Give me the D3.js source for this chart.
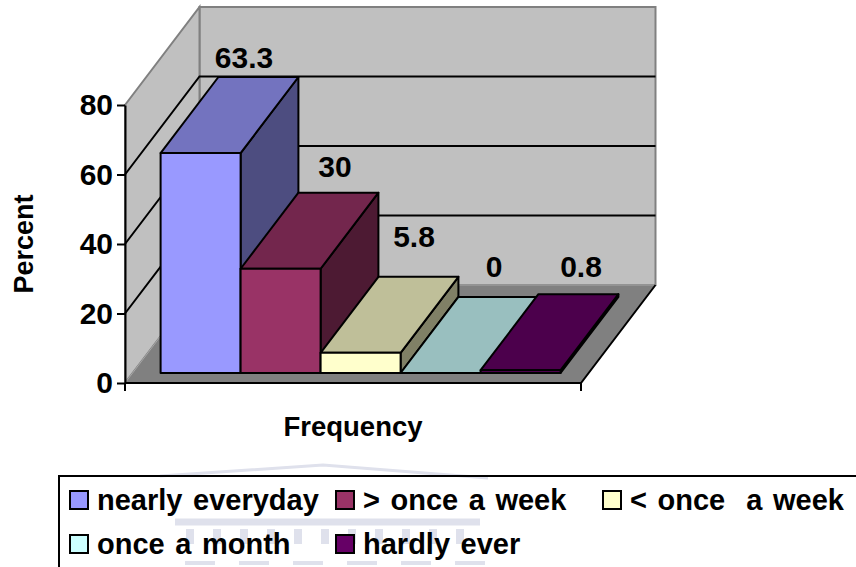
<!DOCTYPE html>
<html>
<head>
<meta charset="utf-8">
<script src="https://cdn.jsdelivr.net/npm/d3@7"></script>
<style>
    html, body { margin: 0; padding: 0; background: #fff; overflow: hidden; }
    text { font-family: "Liberation Sans", Arial, sans-serif; font-weight: bold; fill: #000; }
</style>
</head>
<body>
<div id="plot"></div>
<script>
// values
const categories = ["nearly everyday", "> once a week", "< once  a week", "once a month", "hardly ever"];
const values = [63.3, 30, 5.8, 0, 0.8];
const valueLabels = ["63.3", "30", "5.8", "0", "0.8"];
const yTicks = [0, 20, 40, 60, 80];
const frontColors = ["#9999FF", "#993366", "#FFFFCC", "#CCFFFF", "#660066"];
const topColors = ["#7373BF", "#73264D", "#BFBF99", "#99BFBF", "#4C004C"];
const sideColors = ["#4D4D80", "#4D1A33", "#808066", "#668080", "#330033"];

const width = 856, height = 567;

const svg = d3.select("#plot")
    .append("svg")
    .attr("width", width)
    .attr("height", height)
    .style("display", "block");

// Front plane scales
const x = d3.scaleBand().domain(categories).range([125, 581]).paddingInner(0).paddingOuter(0.35);
const y = d3.scaleLinear().domain([0, 80]).range([383, 105]);

// Depth goes from 0 (front of the floor) to 1 (back wall)
const project = (px, v, z) => [px + z * 74.5, y(v) - z * 98];
const polygon = pts => "M" + pts.map(p => p.join(",")).join("L") + "Z";

const x0 = 125, x1 = 581;

// Back wall
svg.append("path")
    .attr("d", polygon([project(x0, 0, 1), project(x0, 80, 1), project(x1, 80, 1), project(x1, 0, 1)]))
    .attr("fill", "#C0C0C0").attr("stroke", "#808080").attr("stroke-width", 2);

// Side wall
svg.append("path")
    .attr("d", polygon([project(x0, 0, 0), project(x0, 80, 0), project(x0, 80, 1), project(x0, 0, 1)]))
    .attr("fill", "#C0C0C0").attr("stroke", "#808080").attr("stroke-width", 2);

// Floor
svg.append("path")
    .attr("d", polygon([project(x0, 0, 0), project(x0, 0, 1), project(x1, 0, 1), project(x1, 0, 0)]))
    .attr("fill", "#808080").attr("stroke", "#A6A6A6").attr("stroke-width", 1);

// Gridlines on the walls
yTicks.filter(d => d > 0 && d < 80).forEach(d => {
    svg.append("path")
        .attr("d", d3.line()([project(x0, d, 0), project(x0, d, 1), project(x1, d, 1)]))
        .attr("fill", "none").attr("stroke", "#000").attr("stroke-width", 2);
});

// Bars, each with a front, top and side face
const zFront = 0.102, zBack = 0.878;
categories.forEach((c, i) => {
    const a = x(c), b = a + x.bandwidth(), v = values[i];
    const g = svg.append("g")
        .attr("stroke", "#000").attr("stroke-width", 2).attr("stroke-linejoin", "round");
    g.append("path").attr("fill", sideColors[i])
        .attr("d", polygon([project(b, 0, zFront), project(b, v, zFront), project(b, v, zBack), project(b, 0, zBack)]));
    g.append("path").attr("fill", topColors[i])
        .attr("d", polygon([project(a, v, zFront), project(a, v, zBack), project(b, v, zBack), project(b, v, zFront)]));
    g.append("path").attr("fill", frontColors[i])
        .attr("d", polygon([project(a, 0, zFront), project(a, v, zFront), project(b, v, zFront), project(b, 0, zFront)]));
});

// Floor edge and axes
svg.append("path")
    .attr("d", d3.line()([project(x1, 0, 1), project(x1, 0, 0), project(x0, 0, 0)]))
    .attr("fill", "none").attr("stroke", "#000").attr("stroke-width", 2);

svg.append("g")
    .attr("transform", `translate(${x0},0)`)
    .call(d3.axisLeft(y).tickValues(yTicks).tickSize(8).tickSizeOuter(0).tickPadding(4))
    .call(g => g.selectAll("path,line").attr("stroke", "#000").attr("stroke-width", 2))
    .call(g => g.selectAll("text").style("font-size", "30px").attr("font-family", null));

[x0, x1].forEach(px => {
    svg.append("line")
        .attr("x1", px).attr("x2", px).attr("y1", y(0)).attr("y2", y(0) + 8)
        .attr("stroke", "#000").attr("stroke-width", 2);
});

// Value labels
const labelX = [244, 335, 414, 494, 581];
const labelY = [68, 177, 247, 277, 277];
valueLabels.forEach((t, i) => {
    svg.append("text")
        .attr("x", labelX[i]).attr("y", labelY[i])
        .attr("text-anchor", "middle")
        .style("font-size", "30px")
        .text(t);
});

// Axis titles
svg.append("text")
    .attr("x", 353).attr("y", 436)
    .attr("text-anchor", "middle")
    .style("font-size", "27.5px")
    .text("Frequency");

svg.append("text")
    .attr("transform", "translate(33,244) rotate(-90)")
    .attr("text-anchor", "middle")
    .style("font-size", "27px")
    .text("Percent");

// Faint building watermark showing through behind the legend
const mark = svg.append("g")
    .attr("fill", "none").attr("stroke", "#DFE1EC");
mark.append("path").attr("stroke-width", 3)
    .attr("d", d3.line()([[160, 476], [323, 465], [488, 478]]));
mark.append("path").attr("stroke-width", 7)
    .attr("d", d3.line()([[175, 522], [480, 522]]));
d3.range(190, 480, 27).forEach(px => {
    mark.append("line").attr("stroke-width", 8)
        .attr("x1", px).attr("x2", px).attr("y1", 529).attr("y2", 544);
});
d3.range(185, 480, 54).forEach(px => {
    mark.append("line").attr("stroke-width", 4)
        .attr("x1", px).attr("x2", px + 30).attr("y1", 563).attr("y2", 563);
});

// Legend box runs off the page on the right and bottom
svg.append("rect")
    .attr("x", 59).attr("y", 476).attr("width", 820).attr("height", 120)
    .attr("fill", "none").attr("stroke", "#000").attr("stroke-width", 2);

const legendX = [70, 336, 603, 70, 336];
const legendY = [491, 491, 491, 535, 535];
categories.forEach((c, i) => {
    svg.append("rect")
        .attr("x", legendX[i]).attr("y", legendY[i])
        .attr("width", 18).attr("height", 18)
        .attr("fill", frontColors[i]).attr("stroke", "#000").attr("stroke-width", 2);
    svg.append("text")
        .attr("x", legendX[i] + 27).attr("y", legendY[i] + 19)
        .style("font-size", "29px")
        .style("word-spacing", "2.5px")
        .style("white-space", "pre")
        .attr("xml:space", "preserve")
        .text(c);
});
</script>
</body>
</html>
